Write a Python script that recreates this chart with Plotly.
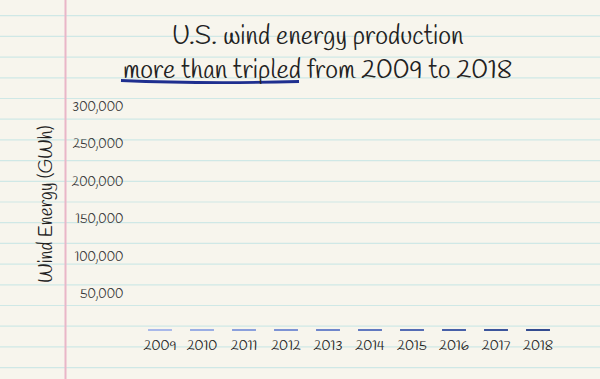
import plotly.graph_objects as go

years = ["2009", "2010", "2011", "2012", "2013", "2014", "2015", "2016", "2017", "2018"]
wind_gwh = [2500, 2500, 2500, 2500, 2500, 2500, 2500, 2500, 2500, 2500]
y_ticks = [50000, 100000, 150000, 200000, 250000, 300000]
y_tick_labels = ["50,000", "100,000", "150,000", "200,000", "250,000", "300,000"]
bar_colors = ["#a9b9ea", "#9aaee4", "#8ba0dc", "#7d93d4", "#6f86cb", "#6179c0",
              "#546cb4", "#4760a8", "#3c559c", "#334b90"]
title_lines = ["U.S. wind energy production", "more than tripled from 2009 to 2018"]

W, H = 600, 379
L, R, T, B = 139, 41, 106, 48
pw, ph = W - L - R, H - T - B

def px(x):
    return (x - L) / pw

def py(y):
    return (H - B - y) / ph

FONT = "Handlee, Patrick Hand, sans-serif"
INK = "#222222"

fig = go.Figure(go.Bar(
    x=years, y=wind_gwh, marker=dict(color=bar_colors, line=dict(width=0)),
    width=0.57, hoverinfo="skip",
))

shapes = []
k = 0
while True:
    yy = 15.7 + 20.7 * k
    if yy > H:
        break
    shapes.append(dict(type="line", xref="paper", yref="paper",
                       x0=px(0), x1=px(W), y0=py(yy), y1=py(yy),
                       line=dict(color="#cfe8e6", width=1.2), layer="below"))
    k += 1
shapes.append(dict(type="line", xref="paper", yref="paper",
                   x0=px(65.5), x1=px(65.5), y0=py(0), y1=py(H),
                   line=dict(color="#e9b6c8", width=2), layer="below"))
path = "M {:.4f},{:.4f} Q {:.4f},{:.4f} {:.4f},{:.4f}".format(
    px(121), py(80.5), px(205), py(84), px(299), py(81.5))
shapes.append(dict(type="path", xref="paper", yref="paper", path=path,
                   line=dict(color="#1f2f8f", width=2.8)))

annotations = [
    dict(text="<br>".join(title_lines), xref="paper", yref="paper",
         x=px(317), y=py(54), showarrow=False, xanchor="center", yanchor="middle",
         align="center", font=dict(family=FONT, size=26, color=INK)),
    dict(text="Wind Energy (GWh)", xref="paper", yref="paper",
         x=px(47), y=py(205), showarrow=False, xanchor="center", yanchor="middle",
         textangle=-90, font=dict(family=FONT, size=19, color=INK)),
]

fig.update_layout(
    width=W, height=H,
    margin=dict(l=L, r=R, t=T, b=B),
    paper_bgcolor="#f7f5ed", plot_bgcolor="rgba(0,0,0,0)",
    shapes=shapes, annotations=annotations,
    showlegend=False, hovermode=False,
    font=dict(family=FONT, color=INK),
)
fig.update_xaxes(showgrid=False, zeroline=False, showline=False,
                 ticks="outside", ticklen=1, tickcolor="rgba(0,0,0,0)",
                 tickfont=dict(size=14, color=INK))
fig.update_yaxes(range=[0, 300000], showgrid=False, zeroline=False, showline=False,
                 tickvals=y_ticks, ticktext=y_tick_labels,
                 ticks="outside", ticklen=12, tickcolor="rgba(0,0,0,0)",
                 tickfont=dict(size=13, color="#333333"))

fig.write_html("out.html", config={"displayModeBar": False},
               post_script="document.body.style.margin='0';")
